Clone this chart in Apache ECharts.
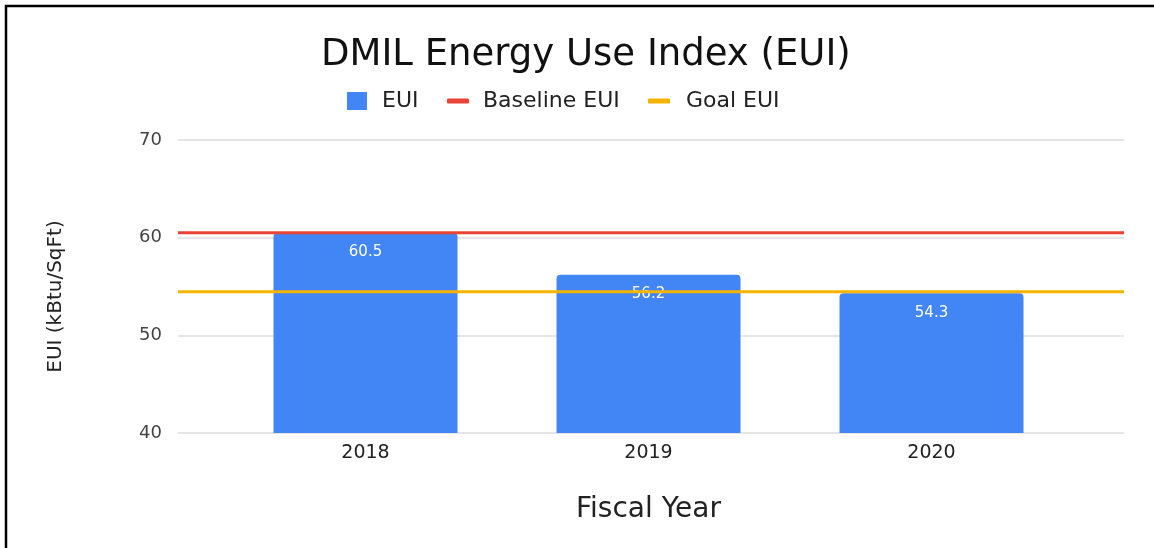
<!DOCTYPE html>
<html>
<head>
<meta charset="utf-8">
<style>
  html, body { margin: 0; padding: 0; background: #fff; }
  #chart { width: 1154px; height: 548px; }
</style>
<script src="https://cdn.jsdelivr.net/npm/echarts@6/dist/echarts.min.js"></script>
</head>
<body>
<div id="chart"></div>
<script>
// Fiscal years and measured energy use intensity (kBtu per square foot)
const fiscalYears = ['2018', '2019', '2020'];
const euiValues = [60.5, 56.2, 54.3];
// Reference levels
const baselineEUI = 60.5;
const goalEUI = 54.45;
// Value axis ticks
const yTicks = [40, 50, 60, 70];

const FONT = '"DejaVu Sans", "Liberation Sans", Arial, sans-serif';
const BLUE = '#4285F4';
const RED = '#EA4335';
const YELLOW = '#F4B400';

const yMin = yTicks[0];
const yMax = yTicks[yTicks.length - 1];
const yStep = yTicks[1] - yTicks[0];

const chart = echarts.init(document.getElementById('chart'), null, { renderer: 'canvas' });

chart.setOption({
  backgroundColor: '#ffffff',
  animation: false,
  textStyle: { fontFamily: FONT },
  title: {
    text: 'DMIL Energy Use Index (EUI)',
    left: 316,
    top: 32,
    textStyle: { fontFamily: FONT, fontSize: 37, fontWeight: 'normal', color: '#111' }
  },
  legend: [
    {
      data: [{ name: 'EUI', icon: 'rect' }],
      left: 342, top: 85,
      itemWidth: 20, itemHeight: 18,
      textStyle: { fontFamily: FONT, fontSize: 22, color: '#222', padding: [0, 0, 0, 10] }
    },
    {
      data: [{ name: 'Baseline EUI', icon: 'roundRect' }],
      left: 442, top: 85,
      itemWidth: 22, itemHeight: 5,
      textStyle: { fontFamily: FONT, fontSize: 22, color: '#222', padding: [0, 0, 0, 9] }
    },
    {
      data: [{ name: 'Goal EUI', icon: 'roundRect' }],
      left: 643, top: 85,
      itemWidth: 22, itemHeight: 5,
      textStyle: { fontFamily: FONT, fontSize: 22, color: '#222', padding: [0, 0, 0, 11] }
    }
  ],
  grid: [
    // value grid: gridlines, y labels and reference lines
    { left: 178, right: 30, top: 140, bottom: 115 },
    // category grid: bars
    { left: 224, right: 81, top: 140, bottom: 115 }
  ],
  xAxis: [
    { gridIndex: 0, type: 'value', min: 0, max: 1, show: false },
    {
      gridIndex: 1,
      type: 'category',
      data: fiscalYears,
      axisLine: { show: false },
      axisTick: { show: false },
      axisLabel: { fontFamily: FONT, fontSize: 19, color: '#222', margin: 11 },
      name: 'Fiscal Year',
      nameLocation: 'middle',
      nameGap: 63,
      nameTextStyle: { fontFamily: FONT, fontSize: 28, color: '#222' }
    }
  ],
  yAxis: [
    {
      gridIndex: 0,
      type: 'value',
      min: yMin, max: yMax, interval: yStep,
      axisLine: { show: false },
      axisTick: { show: false },
      axisLabel: { fontFamily: FONT, fontSize: 18, color: '#444', margin: 16 },
      splitLine: { lineStyle: { color: '#dcdcdc', width: 1.5 } },
      name: 'EUI (kBtu/SqFt)',
      nameLocation: 'middle',
      nameGap: 112,
      nameRotate: 90,
      nameTextStyle: { fontFamily: FONT, fontSize: 20, color: '#222', padding: [0, 0, 0, -20] }
    },
    {
      gridIndex: 1,
      type: 'value',
      min: yMin, max: yMax, interval: yStep,
      show: false,
      splitLine: { show: false }
    }
  ],
  series: [
    {
      name: 'EUI',
      type: 'bar',
      xAxisIndex: 1,
      yAxisIndex: 1,
      data: euiValues,
      barWidth: 184,
      z: 2,
      itemStyle: { color: BLUE, borderRadius: [4, 4, 0, 0] },
      label: {
        show: true,
        position: 'insideTop',
        distance: 12,
        fontFamily: FONT,
        fontSize: 15,
        color: '#ffffff',
        formatter: p => p.value.toFixed(1)
      }
    },
    {
      name: 'Baseline EUI',
      type: 'line',
      xAxisIndex: 0,
      yAxisIndex: 0,
      data: [[0, baselineEUI], [1, baselineEUI]],
      showSymbol: false,
      symbol: 'none',
      z: 3,
      itemStyle: { color: RED },
      lineStyle: { color: RED, width: 3 }
    },
    {
      name: 'Goal EUI',
      type: 'line',
      xAxisIndex: 0,
      yAxisIndex: 0,
      data: [[0, goalEUI], [1, goalEUI]],
      showSymbol: false,
      symbol: 'none',
      z: 3,
      itemStyle: { color: YELLOW },
      lineStyle: { color: YELLOW, width: 3 }
    }
  ],
  graphic: [
    {
      type: 'rect',
      silent: true,
      z: 100,
      shape: { x: 6, y: 6, width: 1300, height: 700 },
      style: { fill: 'none', stroke: '#000', lineWidth: 2.5 }
    }
  ]
});
</script>
</body>
</html>
